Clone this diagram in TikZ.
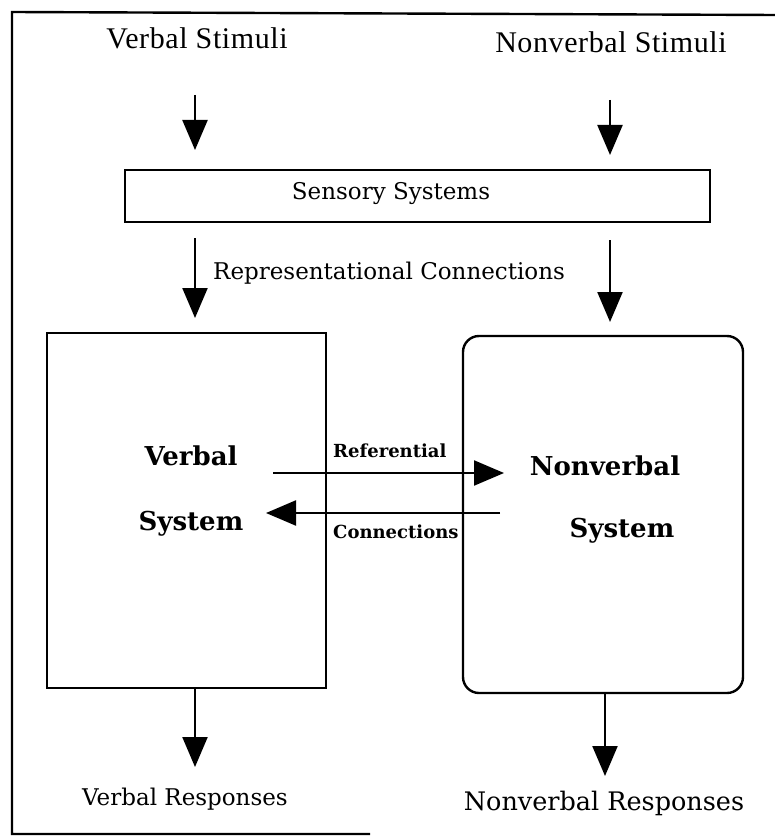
\documentclass[tikz,border=0pt]{standalone}
\usepackage{fontspec}
\setmainfont{DejaVu Serif}
\newfontfamily\stimfamily{Liberation Serif}[LetterSpace=2]
\usetikzlibrary{arrows.meta}
\newcommand\stimfont{\stimfamily\fontsize{30}{34}\selectfont}
\newcommand\plainfont{\fontsize{23}{28}\selectfont}
\newcommand\bigplainfont{\fontsize{25.5}{30}\selectfont}
\newcommand\sysfont{\bfseries\fontsize{26}{31}\selectfont}
\newcommand\reffont{\bfseries\fontsize{18}{22}\selectfont}

\begin{document}
\begin{tikzpicture}[x=1pt, y=-1pt,
  frame/.style={line width=2.4pt},
  boxline/.style={draw, line width=2.4pt, inner sep=0pt},
  arr/.style={-{Triangle[length=30pt,width=25pt]}, line width=2.2pt},
  txt/.style={inner sep=0pt, anchor=base}]
\useasboundingbox (0,0) rectangle (774,837);

% outer frame, open on the right
\draw[frame] (776,15) -- (12,12) -- (12,834) -- (370,834);

% stimuli
\node[txt, font=\stimfont] (vstim) at (197,49) {Verbal Stimuli};
\node[txt, font=\stimfont] (nstim) at (611,53) {Nonverbal Stimuli};

% sensory systems
\node[boxline, minimum width=585pt, minimum height=52pt] (sens) at (417.5,196) {};
\node[txt, font=\plainfont] (senslbl) at (391,200) {Sensory Systems};

% representational connections label
\node[txt, font=\plainfont, anchor=base west] (repr) at (213,279) {Representational Connections};

% the two systems
\node[boxline, minimum width=279pt, minimum height=355pt] (vsys) at (186.5,510.5) {};
\node[boxline, rounded corners=16pt, minimum width=280pt, minimum height=357pt] (nsys) at (603,514.5) {};
\node[txt, font=\sysfont] (vsys1) at (191,465) {Verbal};
\node[txt, font=\sysfont] (vsys2) at (191,530) {System};
\node[txt, font=\sysfont] (nsys1) at (605,475) {Nonverbal};
\node[txt, font=\sysfont] (nsys2) at (622,537) {System};

% referential connections
\node[txt, font=\reffont, anchor=base west] (ref1) at (333,457) {Referential};
\node[txt, font=\reffont, anchor=base west] (ref2) at (333,538) {Connections};

% responses
\node[txt, font=\plainfont] (vresp) at (185,805) {Verbal Responses};
\node[txt, font=\bigplainfont] (nresp) at (604,810) {Nonverbal Responses};

% arrow end points
\coordinate (a1s) at (195,95);   \coordinate (a1e) at (195,150);
\coordinate (a2s) at (610,100);  \coordinate (a2e) at (610,155);
\coordinate (a3s) at (195,238);  \coordinate (a3e) at (195,318);
\coordinate (a4s) at (610,240);  \coordinate (a4e) at (610,322);
\coordinate (r1s) at (273,473);  \coordinate (r1e) at (504,473);
\coordinate (r2s) at (500,513);  \coordinate (r2e) at (266,513);
\coordinate (o1e) at (195,767);
\coordinate (o2e) at (605,776);

\draw[arr] (a1s) -- (a1e);
\draw[arr] (a2s) -- (a2e);
\draw[arr] (a3s) -- (a3e);
\draw[arr] (a4s) -- (a4e);
\draw[arr] (r1s) -- (r1e);
\draw[arr] (r2s) -- (r2e);
\draw[arr] (vsys.south -| o1e) -- (o1e);
\draw[arr] (nsys.south -| o2e) -- (o2e);
\end{tikzpicture}
\end{document}
